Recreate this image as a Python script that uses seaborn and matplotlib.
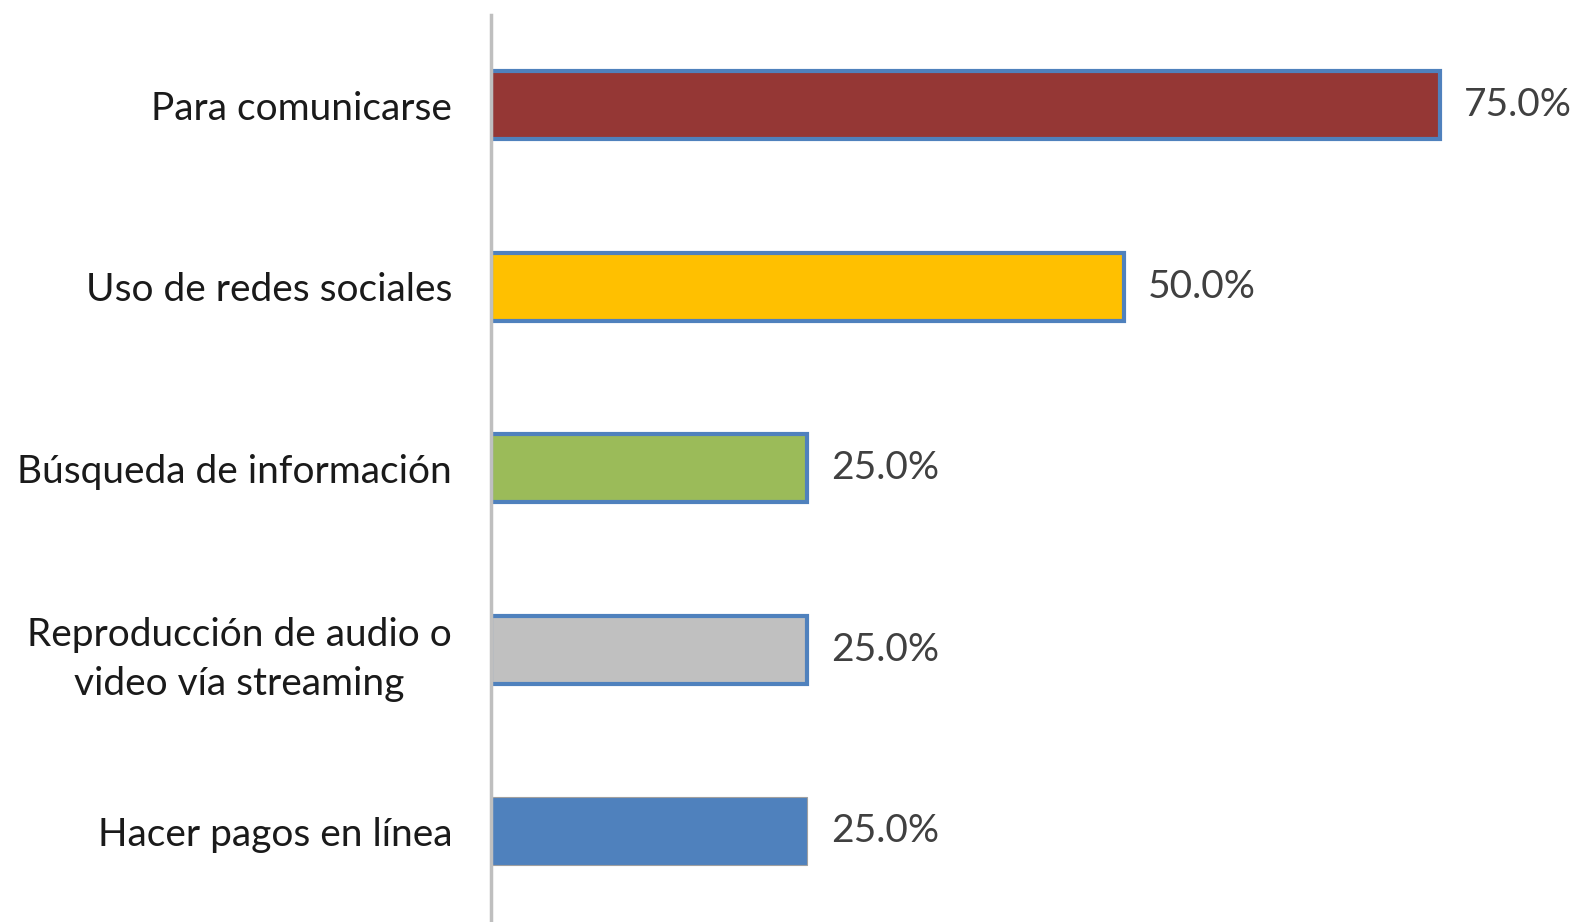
import seaborn as sns
import matplotlib.pyplot as plt
import pandas as pd

# Chart data
categories = [
    "Para comunicarse",
    "Uso de redes sociales",
    "Búsqueda de información",
    "Reproducción de audio o\nvideo vía streaming",
    "Hacer pagos en línea",
]
values = [0.75, 0.50, 0.25, 0.25, 0.25]
bar_colors = ["#953735", "#FFC000", "#9BBB59", "#C0C0C0", "#4F81BD"]
edge_colors = ["#4F81BD", "#4F81BD", "#4F81BD", "#4F81BD", "#A0A0A0"]
edge_widths = [3.0, 3.0, 3.0, 3.0, 0.8]

df = pd.DataFrame({"categoria": categories, "valor": values})

sns.set_style("white")
plt.rcParams["font.family"] = ["Lato", "DejaVu Sans"]

fig = plt.figure(figsize=(15.81, 9.22), dpi=100)
ax = fig.add_axes([0.3105, 0.0, 0.6895, 0.984])

sns.barplot(data=df, y="categoria", x="valor", hue="categoria",
            palette=bar_colors, saturation=1, orient="h", width=0.375,
            legend=False, ax=ax)

for patch, ec, lw in zip(ax.patches, edge_colors, edge_widths):
    patch.set_edgecolor(ec)
    patch.set_linewidth(lw)

for container in ax.containers:
    ax.bar_label(container, labels=[f"{v * 100:.1f}%" for v in container.datavalues],
                 padding=17, fontsize=28, color="#404040")

ax.set_xlim(0, 0.861)
ax.set_ylim(4.5, -0.5)
ax.set_xlabel("")
ax.set_ylabel("")
ax.set_xticks([])
ax.tick_params(axis="y", length=0, pad=28, labelsize=28, labelcolor="#1a1a1a")
for lbl in ax.get_yticklabels():
    lbl.set_multialignment("center")
    lbl.set_linespacing(1.45)

for side in ["top", "right", "bottom"]:
    ax.spines[side].set_visible(False)
ax.spines["left"].set_color("#BFBFBF")
ax.spines["left"].set_linewidth(2.5)
ax.patch.set_alpha(0)

fig.savefig("out.png", dpi=100, facecolor="white")
